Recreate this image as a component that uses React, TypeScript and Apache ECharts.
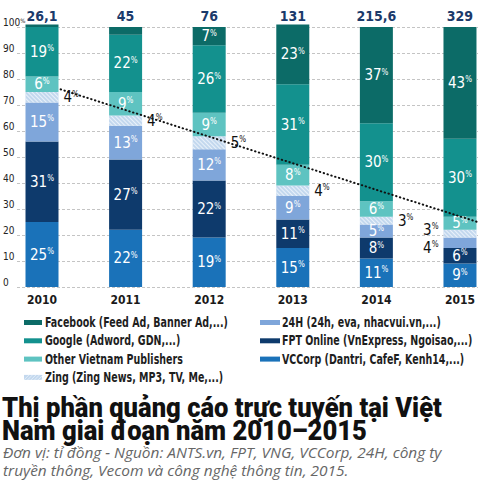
import React, { useEffect, useRef } from "react";
import * as echarts from "echarts";

const years = ["2010", "2011", "2012", "2013", "2014", "2015"];
const totals = ["26,1", "45", "76", "131", "215,6", "329"];
const facebook = [1, 3, 7, 23, 37, 43];
const google = [19, 22, 26, 31, 30, 30];
const otherVN = [6, 9, 9, 8, 6, 5];
const zing = [4, 4, 5, 4, 3, 3];
const h24 = [15, 13, 12, 9, 5, 4];
const fpt = [31, 27, 22, 11, 8, 6];
const vccorp = [25, 22, 19, 15, 11, 9];
const trendLine = [
  [0.19, 76],
  [5.21, 25],
];
const yTicks = [0, 10, 20, 30, 40, 50, 60, 70, 80, 90, 100];

const names = {
  facebook: "Facebook (Feed Ad, Banner Ad,...)",
  google: "Google (Adword, GDN,...)",
  other: "Other Vietnam Publishers",
  zing: "Zing (Zing News, MP3, TV, Me,...)",
  h24: "24H (24h, eva, nhacvui.vn,...)",
  fpt: "FPT Online (VnExpress, Ngoisao,...)",
  vcc: "VCCorp (Dantri, CafeF, Kenh14,...)",
};
const colors = {
  facebook: "#0c6b67",
  google: "#13918e",
  other: "#5ec3c1",
  zing: "#c3d8ee",
  h24: "#7fa6da",
  fpt: "#0e3a6c",
  vcc: "#1a72b9",
};
const legendLeft = ["facebook", "google", "other", "zing"];
const legendRight = ["h24", "fpt", "vcc"];

const titleLines = ["Thị phần quảng cáo trực tuyến tại Việt", "Nam giai đoạn năm 2010–2015"];
const subtitleLines = [
  "Đơn vị: tỉ đồng - Nguồn: ANTS.vn, FPT, VNG, VCCorp, 24H, công ty",
  "truyền thông, Vecom và công nghệ thông tin, 2015.",
];

const COND = "'DejaVu Sans Condensed',sans-serif";
const TITLE_FONT = "Roboto,'DejaVu Sans Condensed',sans-serif";
const SUB_FONT = "'Open Sans','Noto Sans',sans-serif";

const measure = (text: string, font: string) => {
  const c = document.createElement("canvas").getContext("2d");
  if (!c) return text.length * 8;
  c.font = font;
  return c.measureText(text).width;
};

const pctRich = (color: string) => ({
  v: { fontSize: 15, color, fontFamily: COND },
  p: { fontSize: 8, color, fontFamily: COND, padding: [0, 0, 6, 0] },
});

const App = () => {
  const ref = useRef<HTMLDivElement>(null);
  useEffect(() => {
    if (!ref.current) return;
    const chart = echarts.init(ref.current, null, { renderer: "svg" });

    const insideLabel = (minShow: number) => ({
      show: true,
      position: "inside",
      formatter: (p: any) => (p.value >= minShow ? `{v|${p.value}}{p|%}` : ""),
      rich: pctRich("#ffffff"),
    });

    const outside = (pos: string, dy = 0) => ({
      show: true,
      position: pos,
      distance: 5,
      offset: [0, dy],
      formatter: (p: any) => `{v|${p.value}}{p|%}`,
      rich: pctRich("#111111"),
    });

    const barBase = {
      type: "bar",
      stack: "s",
      xAxisIndex: 1,
      yAxisIndex: 1,
      barWidth: 33,
      clip: false,
    };

    const tSize = 28;
    const tFontStr = `900 ${tSize}px ${TITLE_FONT}`;
    const tScale = 440 / measure(titleLines[0], tFontStr);
    const sSize = 14;
    const sFontStr = `italic ${sSize}px ${SUB_FONT}`;
    const sScale = 439 / measure(subtitleLines[0], sFontStr);
    const lSize = 14;
    const lFontStr = `bold ${lSize}px ${COND}`;
    const lScale = 183 / measure(names.facebook, lFontStr);

    const graphic: any[] = [];
    titleLines.forEach((t, i) => {
      graphic.push({
        type: "text",
        x: 2,
        y: 408 + i * 23,
        scaleX: tScale,
        style: {
          text: t,
          fontSize: tSize,
          fontWeight: 900,
          fontFamily: TITLE_FONT,
          fill: "#111",
          verticalAlign: "middle",
          align: "left",
        },
      });
    });
    subtitleLines.forEach((t, i) => {
      graphic.push({
        type: "text",
        x: 3,
        y: 452 + i * 18,
        scaleX: sScale,
        style: {
          text: t,
          fontSize: sSize,
          fontStyle: "italic",
          fontFamily: SUB_FONT,
          fill: "#666",
          verticalAlign: "middle",
          align: "left",
        },
      });
    });
    const legendCol = (keys: string[], sx: number, sw: number, tx: number) => {
      keys.forEach((k, i) => {
        const cy = 322 + i * 18.3;
        graphic.push({
          type: "rect",
          shape: { x: sx, y: cy - 2, width: sw, height: 5 },
          style: { fill: (colors as any)[k] },
        });
        if (k === "zing") {
          for (let j = 0; j < 6; j++) {
            graphic.push({
              type: "line",
              shape: { x1: sx + j * 3.5, y1: cy + 3, x2: sx + j * 3.5 + 5, y2: cy - 2 },
              style: { stroke: "#eaf2fb", lineWidth: 0.8 },
            });
          }
        }
        graphic.push({
          type: "text",
          x: tx,
          y: cy,
          scaleX: lScale,
          style: {
            text: (names as any)[k],
            fontSize: lSize,
            fontWeight: "bold",
            fontFamily: COND,
            fill: "#1e1e1e",
            verticalAlign: "middle",
            align: "left",
          },
        });
      });
    };
    legendCol(legendLeft, 24, 18, 45);
    legendCol(legendRight, 260, 20, 282);

    const option: any = {
      animation: false,
      backgroundColor: "#ffffff",
      textStyle: { fontFamily: COND },
      graphic,
      grid: [
        { left: 14, right: 0, top: 27, height: 260 },
        { left: 42, right: 18, top: 27, height: 260 },
      ],
      xAxis: [
        { gridIndex: 0, type: "value", min: -0.335, max: 5.215, show: false },
        {
          gridIndex: 1,
          type: "category",
          data: years,
          boundaryGap: false,
          position: "bottom",
          axisLine: { show: false },
          axisTick: { show: false },
          axisLabel: { fontSize: 12, fontWeight: "bold", color: "#1a1a1a", margin: 7, fontFamily: COND },
        },
        {
          gridIndex: 1,
          type: "category",
          data: totals,
          boundaryGap: false,
          position: "top",
          axisLine: { show: false },
          axisTick: { show: false },
          axisLabel: { fontSize: 14, fontWeight: "bold", color: "#1b3a6b", margin: 4, fontFamily: COND },
        },
      ],
      yAxis: [
        {
          gridIndex: 0,
          type: "value",
          min: yTicks[0],
          max: yTicks[yTicks.length - 1],
          interval: 10,
          axisLine: { show: false },
          axisTick: { show: false },
          splitLine: { lineStyle: { type: [3, 2], color: "#c4c4c4", width: 1 } },
          axisLabel: {
            align: "left",
            verticalAlign: "bottom",
            margin: 14,
            color: "#222",
            fontSize: 10,
            fontFamily: COND,
            formatter: (v: number) => (v === 100 ? "100{p|%}" : String(v)),
            rich: { p: { fontSize: 6, color: "#222", padding: [0, 0, 4, 0] } },
          },
        },
        { gridIndex: 1, type: "value", min: 0, max: 100, show: false },
      ],
      series: [
        {
          ...barBase,
          name: names.vcc,
          data: vccorp,
          itemStyle: { color: colors.vcc },
          label: insideLabel(5),
        },
        {
          ...barBase,
          name: names.fpt,
          data: fpt,
          itemStyle: { color: colors.fpt },
          label: insideLabel(5),
        },
        {
          ...barBase,
          name: names.h24,
          data: h24.map((v, i) => (i === 5 ? { value: v, label: outside("left", 5) } : v)),
          itemStyle: { color: colors.h24 },
          label: insideLabel(5),
        },
        {
          ...barBase,
          name: names.zing,
          data: zing.map((v, i) => (i === 5 ? { value: v, label: outside("left", -4) } : v)),
          itemStyle: {
            color: colors.zing,
            decal: {
              symbol: "rect",
              symbolSize: 1,
              color: "#e9f1fa",
              dashArrayX: [1, 0],
              dashArrayY: [1, 2],
              rotation: Math.PI / 4,
            },
          },
          label: outside("right"),
        },
        {
          ...barBase,
          name: names.other,
          data: otherVN,
          itemStyle: { color: colors.other },
          label: insideLabel(5),
        },
        {
          ...barBase,
          name: names.google,
          data: google,
          itemStyle: { color: colors.google },
          label: insideLabel(5),
        },
        {
          ...barBase,
          name: names.facebook,
          data: facebook,
          itemStyle: { color: colors.facebook },
          label: insideLabel(5),
        },
        {
          type: "line",
          xAxisIndex: 0,
          yAxisIndex: 0,
          data: trendLine,
          symbol: "none",
          silent: true,
          z: 10,
          lineStyle: { color: "#111", width: 2, type: [0.5, 3.5], cap: "round" },
        },
      ],
    };
    chart.setOption(option);
    return () => chart.dispose();
  }, []);
  return (
    <div
      ref={ref}
      style={{ position: "fixed", left: 0, top: 0, width: 478, height: 498, background: "#fff" }}
    />
  );
};

export default App;
